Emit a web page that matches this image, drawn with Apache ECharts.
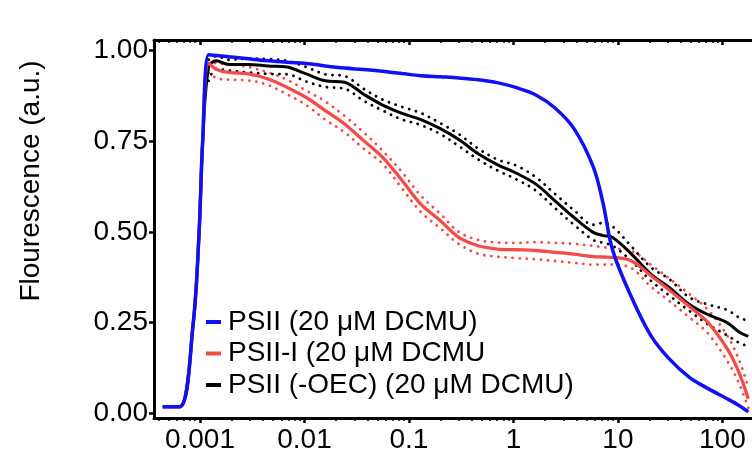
<!DOCTYPE html>
<html><head><meta charset="utf-8">
<script src="https://cdn.jsdelivr.net/npm/echarts@6/dist/echarts.min.js"></script>
<style>html,body{margin:0;padding:0;background:#fff}#c{width:752px;height:455px}</style>
</head><body><div id="c"></div>
<script>
// time (s)
const times = [0.00044, 0.00064, 0.00086, 0.00098, 0.00106, 0.00121, 0.00143, 0.0019, 0.0029, 0.0045,
  0.0068, 0.0104, 0.0158, 0.0242, 0.0368, 0.056, 0.086, 0.13, 0.2, 0.3,
  0.46, 0.7, 1.07, 1.64, 2.5, 3.8, 5.8, 7.2, 8.9, 13.5,
  20.6, 31, 48, 73, 111, 143, 177];
const psii = [0.018, 0.018, 0.246, 0.497, 0.747, 0.989, 0.987, 0.983, 0.978, 0.972,
  0.968, 0.965, 0.958, 0.952, 0.948, 0.943, 0.937, 0.931, 0.928, 0.925,
  0.92, 0.912, 0.898, 0.878, 0.842, 0.785, 0.68, 0.58, 0.45, 0.32,
  0.215, 0.15, 0.10, 0.068, 0.04, 0.022, 0.004];
const psiiI = [0.018, 0.018, 0.246, 0.497, 0.747, 0.965, 0.949, 0.940, 0.936, 0.922,
  0.899, 0.871, 0.835, 0.798, 0.752, 0.706, 0.642, 0.577, 0.531, 0.485,
  0.462, 0.453, 0.451, 0.449, 0.444, 0.439, 0.432, 0.431, 0.430, 0.42,
  0.38, 0.34, 0.295, 0.25, 0.178, 0.115, 0.040];
const psiiIUpper = [null, null, null, null, null, 0.975, 0.965, 0.963, 0.955, 0.94,
  0.92, 0.89, 0.86, 0.82, 0.775, 0.724, 0.665, 0.60, 0.55, 0.50,
  0.478, 0.471, 0.470, 0.472, 0.470, 0.467, 0.462, 0.458, 0.455, 0.448,
  0.41, 0.372, 0.33, 0.285, 0.215, 0.15, 0.072];
const psiiILower = [null, null, null, null, null, 0.94, 0.925, 0.92, 0.918, 0.905,
  0.88, 0.85, 0.81, 0.775, 0.73, 0.688, 0.62, 0.555, 0.51, 0.467,
  0.44, 0.432, 0.428, 0.425, 0.42, 0.415, 0.41, 0.41, 0.41, 0.40,
  0.35, 0.31, 0.265, 0.22, 0.145, 0.085, 0.015];
const psiiOEC = [0.018, 0.018, 0.246, 0.497, 0.747, 0.955, 0.972, 0.962, 0.962, 0.958,
  0.955, 0.936, 0.917, 0.913, 0.88, 0.85, 0.827, 0.81, 0.785, 0.755,
  0.716, 0.686, 0.662, 0.632, 0.586, 0.540, 0.499, 0.49, 0.485, 0.439,
  0.384, 0.347, 0.301, 0.272, 0.25, 0.225, 0.212];
const psiiOECUpper = [null, null, null, null, null, 0.975, 0.985, 0.975, 0.978, 0.977,
  0.972, 0.955, 0.935, 0.93, 0.895, 0.865, 0.845, 0.828, 0.80, 0.77,
  0.73, 0.70, 0.683, 0.651, 0.605, 0.56, 0.52, 0.525, 0.515, 0.46,
  0.403, 0.37, 0.32, 0.30, 0.285, 0.265, 0.255];
const psiiOECLower = [null, null, null, null, null, 0.917, 0.95, 0.945, 0.94, 0.936,
  0.935, 0.915, 0.9, 0.895, 0.862, 0.835, 0.81, 0.795, 0.77, 0.737,
  0.70, 0.67, 0.645, 0.614, 0.566, 0.52, 0.478, 0.47, 0.462, 0.42,
  0.366, 0.325, 0.283, 0.245, 0.215, 0.195, 0.185];

const xTicks = [0.001, 0.01, 0.1, 1, 10, 100];
const xTickLabels = ['0.001', '0.01', '0.1', '1', '10', '100'];
const yTicks = [0, 0.25, 0.5, 0.75, 1.0];
const yTickLabels = ['0.00', '0.25', '0.50', '0.75', '1.00'];
const seriesNames = ['PSII (20 μM DCMU)', 'PSII-I (20 μM DCMU', 'PSII (-OEC) (20 μM DCMU)'];
const yTitle = 'Flourescence (a.u.)';

const FONT = '"Liberation Sans", Arial, sans-serif';
const xMin = Math.pow(10, -3.44), xMax = Math.pow(10, 2.36);
const BLUE = '#1010f5', RED = '#f44a48', BLACK = '#000000';

function pts(vals) {
  const out = [];
  times.forEach((t, i) => { if (vals[i] != null) out.push([t, vals[i]]); });
  return out;
}
const minorTicks = [];
for (let e = -4; e <= 2; e++) for (let k = 2; k <= 9; k++) {
  const v = k * Math.pow(10, e);
  if (v > xMin && v < xMax) minorTicks.push(v);
}
function xLabel(v) {
  const i = xTicks.findIndex(t => Math.abs(Math.log10(t) - Math.log10(v)) < 1e-6);
  return i >= 0 ? xTickLabels[i] : '';
}
function baseX(extra) {
  return Object.assign({
    type: 'log', logBase: 10, gridIndex: 0, min: xMin, max: xMax,
    splitLine: { show: false },
    axisLine: { show: true, onZero: false, lineStyle: { color: '#000', width: 3 } },
    axisLabel: { show: false }
  }, extra);
}
const dotted = (color) => ({ color: color, width: 2.8, type: [0.1, 7], cap: 'round' });
const lineOpts = { type: 'line', showSymbol: false, smooth: 0.35 };

const chart = echarts.init(document.getElementById('c'), null, { renderer: 'canvas' });
chart.setOption({
  animation: false,
  backgroundColor: '#fff',
  grid: { left: 154, top: 40, width: 606, height: 378, containLabel: false, outerBoundsMode: 'none' },
  xAxis: [
    baseX({ position: 'bottom',
      axisTick: { show: true, customValues: xTicks, length: 5, lineStyle: { color: '#000', width: 2.5 } },
      axisLabel: { show: true, customValues: xTicks, formatter: xLabel, margin: 8,
        fontSize: 28, color: '#000', fontFamily: FONT } }),
    baseX({ position: 'top',
      axisTick: { show: true, inside: true, customValues: xTicks, length: 5, lineStyle: { color: '#000', width: 2.5 } } }),
    baseX({ position: 'bottom', axisLine: { show: false, onZero: false },
      axisTick: { show: true, customValues: minorTicks, length: 3, lineStyle: { color: '#000', width: 1.5 } } }),
    baseX({ position: 'top', axisLine: { show: false, onZero: false },
      axisTick: { show: true, inside: true, customValues: minorTicks, length: 3, lineStyle: { color: '#000', width: 1.5 } } })
  ],
  yAxis: {
    type: 'value', min: -0.013, max: 1.0295,
    splitLine: { show: false },
    axisLine: { show: true, onZero: false, lineStyle: { color: '#000', width: 3 } },
    axisTick: { show: true, customValues: yTicks, length: 5, lineStyle: { color: '#000', width: 2.5 } },
    axisLabel: { show: true, customValues: yTicks,
      formatter: v => { const i = yTicks.findIndex(t => Math.abs(t - v) < 1e-6); return i >= 0 ? yTickLabels[i] : ''; },
      margin: 6, fontSize: 28, color: '#000', fontFamily: FONT }
  },
  legend: {
    data: seriesNames, orient: 'vertical', left: 206, top: 308, padding: 0,
    icon: 'rect', itemWidth: 15, itemHeight: 4, itemGap: 3.5,
    textStyle: { fontSize: 28, color: '#000', fontFamily: FONT, padding: [0, 0, 0, 2] }
  },
  graphic: [{
    type: 'text', x: 31, y: 181, rotation: Math.PI / 2,
    style: { text: yTitle, font: '28px "Liberation Sans", Arial, sans-serif', fill: '#000',
      align: 'center', verticalAlign: 'middle' }
  }],
  series: [
    Object.assign({ name: 'PSII-I upper', data: pts(psiiIUpper), lineStyle: dotted(RED), silent: true }, lineOpts),
    Object.assign({ name: 'PSII-I lower', data: pts(psiiILower), lineStyle: dotted(RED), silent: true }, lineOpts),
    Object.assign({ name: 'OEC upper', data: pts(psiiOECUpper), lineStyle: dotted(BLACK), silent: true }, lineOpts),
    Object.assign({ name: 'OEC lower', data: pts(psiiOECLower), lineStyle: dotted(BLACK), silent: true }, lineOpts),
    Object.assign({ name: seriesNames[2], data: pts(psiiOEC), color: BLACK, lineStyle: { color: BLACK, width: 3 } }, lineOpts),
    Object.assign({ name: seriesNames[1], data: pts(psiiI), color: RED, lineStyle: { color: RED, width: 3.3 } }, lineOpts),
    Object.assign({ name: seriesNames[0], data: pts(psii), color: BLUE, lineStyle: { color: BLUE, width: 3.5 } }, lineOpts)
  ]
});
</script></body></html>
